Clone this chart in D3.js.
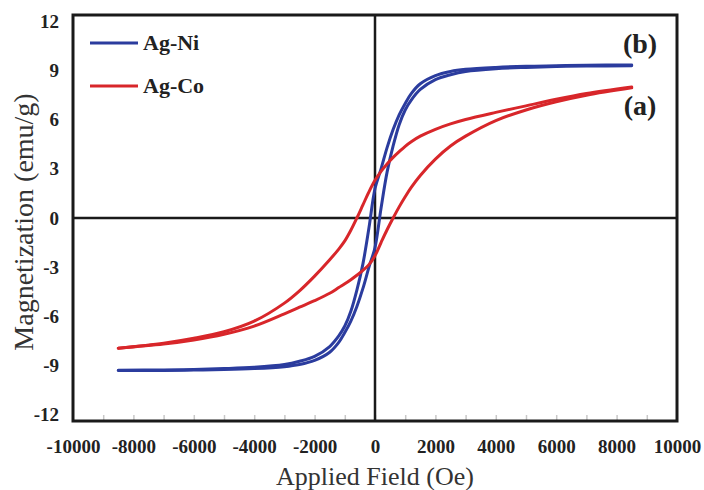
<!DOCTYPE html>
<html>
<head>
<meta charset="utf-8">
<script src="https://cdn.jsdelivr.net/npm/d3@7"></script>
<style>
  body { margin: 0; background: #fff; }
  svg { display: block; }
</style>
</head>
<body>
<svg id="chart" width="704" height="490"></svg>
<script>
// applied field grid (Oe), shared by every branch
var field = [-8500, -7000, -6000, -5000, -4000, -3000, -2500, -2000, -1500, -1200, -1000,
             -800, -600, -400, -200, 0, 200, 400, 600, 800, 1000, 1200, 1500, 2000, 2500,
             3000, 4000, 5000, 6000, 7000, 8500];

// Ag-Ni (b) - descending / ascending branch (emu/g)
var niDown = [-9.30, -9.28, -9.25, -9.20, -9.12, -8.95, -8.75, -8.45, -7.85, -7.20, -6.60,
              -5.70, -4.40, -2.80, -0.60, 1.80, 3.00, 4.30, 5.40, 6.30, 7.00, 7.60, 8.20, 8.70, 8.95,
              9.08, 9.20, 9.27, 9.30, 9.33, 9.35];
var niUp   = [-9.32, -9.31, -9.29, -9.26, -9.20, -9.08, -8.95, -8.70, -8.20, -7.60, -7.00,
              -6.30, -5.40, -4.30, -3.00, -1.80, 0.60, 2.80, 4.40, 5.70, 6.60, 7.20, 7.85, 8.45, 8.75,
              8.95, 9.12, 9.20, 9.25, 9.28, 9.30];

// Ag-Co (a)
var coDown = [-7.95, -7.65, -7.35, -6.95, -6.30, -5.20, -4.45, -3.55, -2.55, -1.90, -1.40,
              -0.75, 0.00, 0.80, 1.60, 2.30, 2.85, 3.30, 3.70, 4.05, 4.38, 4.66, 5.00, 5.42, 5.75,
              6.02, 6.45, 6.85, 7.25, 7.60, 8.00];
var coUp   = [-7.95, -7.70, -7.45, -7.10, -6.60, -5.85, -5.45, -5.05, -4.60, -4.25, -4.02,
              -3.77, -3.50, -3.20, -2.85, -2.30, -1.50, -0.72, 0.00, 0.68, 1.30, 1.87, 2.60, 3.60, 4.40,
              5.00, 5.95, 6.60, 7.10, 7.50, 7.95];

var xTicks = [-10000, -8000, -6000, -4000, -2000, 0, 2000, 4000, 6000, 8000, 10000];
var xMinor = d3.range(-9000, 10000, 1000);
var yTicks = [-12, -9, -6, -3, 0, 3, 6, 9, 12];

var series = [
    { name: 'Ag-Ni', tag: '(b)', color: '#2b3c9e', down: niDown, up: niUp },
    { name: 'Ag-Co', tag: '(a)', color: '#d8262a', down: coDown, up: coUp }
];

var svg = d3.select('#chart');
var box = { left: 73, right: 677, top: 15, bottom: 421 };

var x = d3.scaleLinear().domain([-10000, 10000]).range([box.left, box.right]);
var y = d3.scaleLinear().domain([-12.4, 12.4]).range([box.bottom, box.top]);

var serif = '"Liberation Serif", "Times New Roman", serif';
var plain = function (d) { return String(d); };   // hyphen minus, like the original

/* minor ticks, faint, pointing inward */
svg.append('g')
    .attr('transform', 'translate(0,' + box.bottom + ')')
    .call(d3.axisBottom(x).tickValues(xMinor).tickSize(-6).tickFormat(''))
    .call(function (g) {
        g.select('.domain').remove();
        g.selectAll('line').attr('stroke', '#c8c8c8').attr('stroke-width', 1.5);
    });

/* x tick labels */
svg.append('g')
    .attr('transform', 'translate(0,' + box.bottom + ')')
    .call(d3.axisBottom(x).tickValues(xTicks).tickSize(0).tickPadding(19).tickFormat(plain))
    .call(function (g) {
        g.select('.domain').remove();
        g.selectAll('text')
            .attr('font-family', serif)
            .attr('font-weight', 'bold')
            .attr('font-size', 19)
            .attr('fill', '#222');
    });

/* y tick labels */
svg.append('g')
    .attr('transform', 'translate(' + box.left + ',0)')
    .call(d3.axisLeft(y).tickValues(yTicks).tickSize(0).tickPadding(14).tickFormat(plain))
    .call(function (g) {
        g.select('.domain').remove();
        g.selectAll('text')
            .attr('font-family', serif)
            .attr('font-weight', 'bold')
            .attr('font-size', 19)
            .attr('fill', '#222');
    });

/* zero lines */
svg.append('line')
    .attr('x1', box.left).attr('x2', box.right)
    .attr('y1', y(0)).attr('y2', y(0))
    .attr('stroke', '#1a1a1a').attr('stroke-width', 2.5);
svg.append('line')
    .attr('x1', x(0)).attr('x2', x(0))
    .attr('y1', box.top).attr('y2', box.bottom)
    .attr('stroke', '#1a1a1a').attr('stroke-width', 2.5);

/* loops */
var line = d3.line()
    .x(function (d) { return x(d[0]); })
    .y(function (d) { return y(d[1]); })
    .curve(d3.curveCatmullRom.alpha(0.5));

series.forEach(function (s) {
    [s.down, s.up].forEach(function (branch) {
        svg.append('path')
            .datum(field.map(function (h, i) { return [h, branch[i]]; }))
            .attr('d', line)
            .attr('fill', 'none')
            .attr('stroke', s.color)
            .attr('stroke-width', 3)
            .attr('stroke-linecap', 'round');
    });
});

/* frame */
svg.append('rect')
    .attr('x', box.left).attr('y', box.top)
    .attr('width', box.right - box.left).attr('height', box.bottom - box.top)
    .attr('fill', 'none')
    .attr('stroke', '#1a1a1a')
    .attr('stroke-width', 3);

/* legend */
var legend = svg.append('g').attr('transform', 'translate(90,43)');
series.forEach(function (s, i) {
    var g = legend.append('g').attr('transform', 'translate(0,' + (i * 43) + ')');
    g.append('line')
        .attr('x1', 0).attr('x2', 48)
        .attr('stroke', s.color).attr('stroke-width', 3);
    g.append('text')
        .attr('x', 53).attr('y', 7)
        .attr('font-family', serif)
        .attr('font-weight', 'bold')
        .attr('font-size', 22)
        .attr('fill', '#222')
        .text(s.name);
});

/* curve tags */
series.forEach(function (s) {
    var last = s.down[s.down.length - 1];
    svg.append('text')
        .attr('x', 640)
        .attr('y', y(last) + (s.tag === '(b)' ? -12 : 28))
        .attr('text-anchor', 'middle')
        .attr('font-family', serif)
        .attr('font-weight', 'bold')
        .attr('font-size', 28)
        .attr('fill', '#222')
        .text(s.tag);
});

/* axis titles */
svg.append('text')
    .attr('x', (box.left + box.right) / 2)
    .attr('y', 485)
    .attr('text-anchor', 'middle')
    .attr('font-family', serif)
    .attr('font-size', 26)
    .attr('fill', '#333')
    .text('Applied Field (Oe)');

svg.append('text')
    .attr('transform', 'translate(33,' + (y(0) + 4) + ') rotate(-90)')
    .attr('text-anchor', 'middle')
    .attr('font-family', serif)
    .attr('font-size', 28)
    .attr('fill', '#333')
    .text('Magnetization (emu/g)');
</script>
</body>
</html>
